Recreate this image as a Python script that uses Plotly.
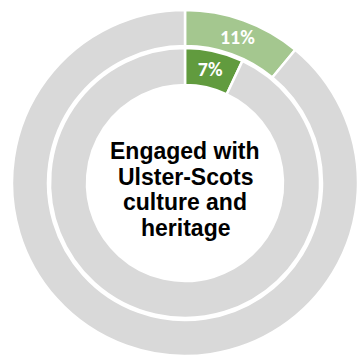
import plotly.graph_objects as go

# Share of respondents engaged (green) vs. not (grey), two survey waves
outer_labels = ["Engaged", "Not engaged"]
outer_values = [11, 89]
inner_labels = ["Engaged", "Not engaged"]
inner_values = [7, 93]
centre_lines = ["Engaged with", "Ulster-Scots", "culture and", "heritage"]

W, H = 358, 364
CX, CY = 185, 181          # ring centre in px (x from left, y from bottom)
R_OUT, R_MID = 173, 135    # outer ring radius, inner ring radius


def dom(r):
    return dict(x=[max(0, (CX - r) / W), min(1, (CX + r) / W)],
                y=[max(0, (CY - r) / H), min(1, (CY + r) / H)])


def labels_for(values):
    return [f"{values[0]}%", ""]


label_font = dict(family="Carlito, Lato, Liberation Sans", size=20,
                  color="white", weight="bold")

fig = go.Figure()

fig.add_trace(go.Pie(
    labels=outer_labels, values=outer_values,
    text=labels_for(outer_values), textinfo="text",
    textposition="inside", insidetextorientation="horizontal",
    textfont=label_font,
    marker=dict(colors=["#A4C78F", "#D9D9D9"], line=dict(color="white", width=2.5)),
    hole=137 / R_OUT, sort=False, direction="clockwise", rotation=0,
    domain=dom(R_OUT), showlegend=False, hoverinfo="skip",
))

fig.add_trace(go.Pie(
    labels=inner_labels, values=inner_values,
    text=labels_for(inner_values), textinfo="text",
    textposition="inside", insidetextorientation="horizontal",
    textfont=label_font,
    marker=dict(colors=["#619B3E", "#D9D9D9"], line=dict(color="white", width=2.5)),
    hole=98 / R_MID, sort=False, direction="clockwise", rotation=0,
    domain=dom(R_MID), showlegend=False, hoverinfo="skip",
))

# centre caption, one annotation per line so the line pitch can be set
CAPTION_SIZE = 23
PITCH = 25.8
CAPTION_MID = 189.5   # px from top
n = len(centre_lines)
for i, txt in enumerate(centre_lines):
    ytop = CAPTION_MID + (i - (n - 1) / 2) * PITCH
    fig.add_annotation(
        text=f"<b>{txt}</b>", x=CX / W, y=1 - ytop / H,
        xref="paper", yref="paper", xanchor="center", yanchor="middle",
        showarrow=False,
        font=dict(family="Liberation Sans, Arial", size=CAPTION_SIZE, color="black"),
    )

fig.update_layout(
    width=W, height=H,
    margin=dict(l=0, r=0, t=0, b=0),
    paper_bgcolor="white", plot_bgcolor="white",
    uniformtext=dict(minsize=20, mode="show"),
)

fig.write_html("out.html")
